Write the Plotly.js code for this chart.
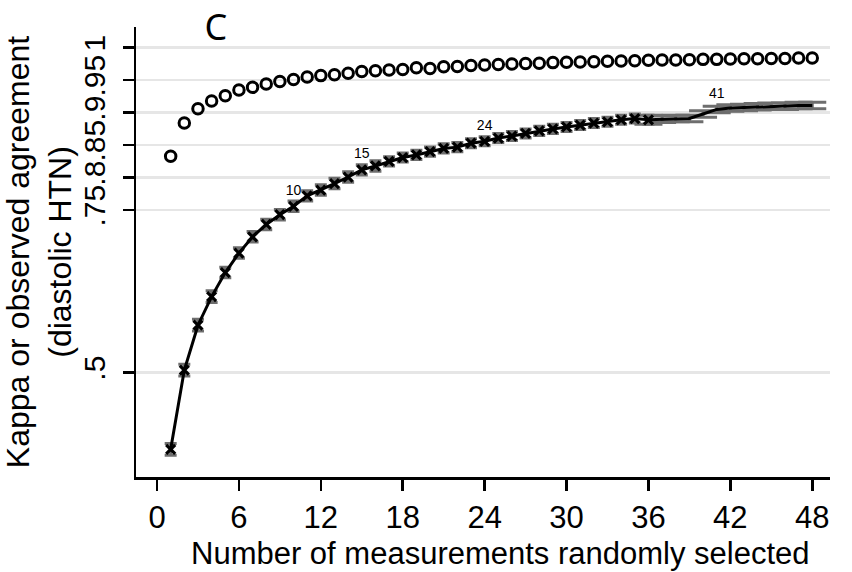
<!DOCTYPE html>
<html>
<head>
<meta charset="utf-8">
<script src="https://cdn.plot.ly/plotly-3.0.1.min.js"></script>
<style>html,body{margin:0;padding:0;background:#fff;}#chart{width:852px;height:572px;}</style>
</head>
<body>
<div id="chart"></div>
<script>
// Number of measurements randomly selected
var nMeas = [1,2,3,4,5,6,7,8,9,10,11,12,13,14,15,16,17,18,19,20,21,22,23,24,
             25,26,27,28,29,30,31,32,33,34,35,36,37,38,39,40,41,42,43,44,45,46,47,48];
// Observed agreement (circles)
var observed = [0.833,0.884,0.906,0.918,0.926,0.935,0.939,0.944,0.948,0.951,0.955,0.957,
                0.9585,0.9605,0.9635,0.9645,0.9655,0.9665,0.969,0.968,0.9705,0.971,0.9725,0.9735,
                0.974,0.975,0.9755,0.976,0.977,0.9775,0.978,0.9785,0.979,0.9795,0.980,0.9805,
                0.981,0.981,0.9815,0.982,0.982,0.9825,0.983,0.983,0.9835,0.9835,0.984,0.984];
// Kappa (line with x markers)
var kappa = [0.382,0.504,0.573,0.617,0.654,0.684,0.709,0.728,0.743,0.756,0.772,0.781,
             0.791,0.801,0.812,0.818,0.825,0.831,0.835,0.840,0.845,0.847,0.853,0.856,
             0.861,0.864,0.868,0.872,0.875,0.878,0.881,0.884,0.886,0.889,0.891,0.889,
             0.890,0.891,0.891,0.898,0.905,0.907,0.908,0.909,0.910,0.910,0.911,0.911];
// Kappa confidence half-width (grey caps)
var kappaErr = [0.009,0.009,0.009,0.009,0.008,0.008,0.008,0.008,0.008,0.008,0.008,0.008,
                0.008,0.008,0.008,0.008,0.007,0.007,0.007,0.007,0.007,0.007,0.007,0.007,
                0.007,0.007,0.007,0.007,0.007,0.007,0.007,0.007,0.007,0.007,0.007,0.007,
                0.005,0.005,0.005,0.005,0.005,0.005,0.005,0.005,0.005,0.005,0.005,0.005];
// Labelled thresholds
var labelN = [10,15,24,41];
var xTicks = [0,6,12,18,24,30,36,42,48];
var yTicks = [0.5,0.75,0.8,0.85,0.9,0.95,1];
var yTickText = ['.5','.75','.8','.85','.9','.95','1'];

var cut = 36;
var xA=[],kA=[],eA=[],xB=[],kB=[],eB=[];
for (var i=0;i<nMeas.length;i++){
  if (nMeas[i]<=cut){xA.push(nMeas[i]);kA.push(kappa[i]);eA.push(kappaErr[i]);}
  if (nMeas[i]>=cut){xB.push(nMeas[i]);kB.push(kappa[i]);eB.push(kappaErr[i]);}
}
var labY = labelN.map(function(n){return kappa[nMeas.indexOf(n)];});

var traces = [
  {x:xB,y:kB,type:'scatter',mode:'lines',line:{color:'#000',width:3},
   error_y:{type:'data',array:eB,visible:true,color:'#6e6e6e',thickness:3,width:14},
   hoverinfo:'skip',showlegend:false},
  {x:xA,y:kA,type:'scatter',mode:'lines+markers',line:{color:'#000',width:3},
   marker:{symbol:'x-thin-open',size:9,color:'#000',line:{color:'#000',width:3.2}},
   error_y:{type:'data',array:eA,visible:true,color:'#6e6e6e',thickness:3,width:6},
   showlegend:false},
  {x:nMeas,y:observed,type:'scatter',mode:'markers',
   marker:{symbol:'circle-open',size:10.5,color:'#000',line:{color:'#000',width:3}},showlegend:false},
  {x:labelN,y:labY,type:'scatter',mode:'markers+text',text:labelN.map(String),
   marker:{color:'rgba(0,0,0,0)',size:11},
   textposition:'top center',textfont:{family:'Liberation Sans, Arial, sans-serif',size:14,color:'#000'},
   showlegend:false,hoverinfo:'skip'}
];

var layout = {
  width:852,height:572,
  paper_bgcolor:'#fff',plot_bgcolor:'#fff',
  margin:{l:136,r:22,t:27,b:95},
  font:{family:'Liberation Sans, Arial, sans-serif',color:'#000'},
  title:{text:'C',font:{family:'Noto Sans, sans-serif',size:36,color:'#000'},
         xref:'container',x:216/852,xanchor:'center',yref:'container',y:1-27/572,yanchor:'middle'},
  xaxis:{range:[-1.54,49.3],tickmode:'array',tickvals:xTicks,ticktext:xTicks.map(String),
         showgrid:false,zeroline:false,showline:true,linecolor:'#000',linewidth:2.5,
         ticks:'outside',ticklen:11,tickwidth:2.5,tickcolor:'#000',
         tickfont:{size:31,family:'Liberation Sans, Arial, sans-serif'}},
  yaxis:{range:[0.3395,1.0318],tickmode:'array',tickvals:yTicks,ticktext:yTickText,tickangle:-90,
         showgrid:true,gridcolor:'#e6e6e6',gridwidth:2.5,zeroline:false,
         showline:true,linecolor:'#000',linewidth:2.5,
         ticks:'outside',ticklen:11,tickwidth:2.5,tickcolor:'#000',ticklabelstandoff:6,
         tickfont:{size:30,family:'Liberation Sans, Arial, sans-serif'},
         title:{text:'Kappa or observed agreement<br>(diastolic HTN)',standoff:0,
                font:{size:32,family:'Liberation Sans, Arial, sans-serif'}}},
  annotations:[{text:'Number of measurements randomly selected',xref:'paper',yref:'paper',
     x:(500-136)/694,y:(477-553)/450,xanchor:'center',yanchor:'middle',showarrow:false,
     font:{size:31,family:'Liberation Sans, Arial, sans-serif',color:'#000'}}]
};
Plotly.newPlot('chart',traces,layout,{displayModeBar:false,staticPlot:true});
</script>
</body>
</html>
